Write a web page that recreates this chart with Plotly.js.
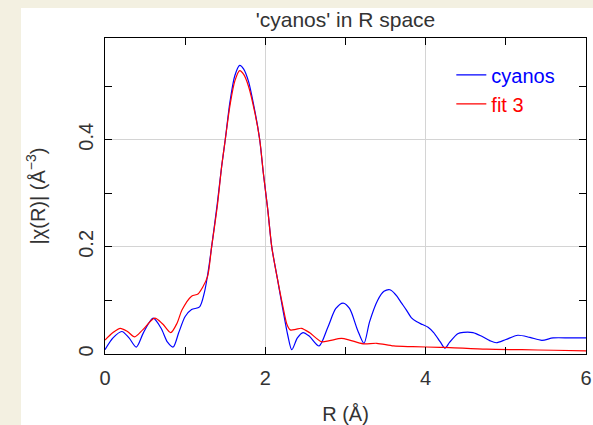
<!DOCTYPE html>
<html>
<head>
<meta charset="utf-8">
<script src="https://cdn.plot.ly/plotly-3.0.1.min.js"></script>
<style>
  html, body { margin: 0; padding: 0; background: #f3f0e1; width: 593px; height: 425px; overflow: hidden; }
  #panel { position: absolute; left: 21px; top: 8px; width: 572px; height: 417px; background: #ffffff; }
  #chart { width: 572px; height: 417px; }
</style>
</head>
<body>
<div id="panel"><div id="chart"></div></div>
<script>
// Data
const R_cyanos = [0.00,0.10,0.21,0.30,0.39,0.48,0.60,0.70,0.78,0.85,0.92,1.00,1.08,1.18,1.24,1.29,1.33,1.40,1.455,1.50,1.56,1.62,1.68,1.73,1.79,1.87,1.93,1.975,2.03,2.08,2.15,2.22,2.28,2.33,2.40,2.47,2.55,2.67,2.78,2.88,2.97,3.05,3.15,3.23,3.30,3.40,3.48,3.555,3.63,3.70,3.76,3.82,3.89,3.96,4.03,4.10,4.18,4.24,4.30,4.40,4.47,4.59,4.70,4.80,4.88,5.00,5.15,5.30,5.45,5.59,5.80,6.00];
const chi_cyanos = [0.008,0.030,0.042,0.030,0.013,0.040,0.067,0.048,0.022,0.013,0.040,0.070,0.083,0.088,0.115,0.157,0.200,0.280,0.350,0.400,0.472,0.520,0.539,0.532,0.509,0.453,0.400,0.338,0.270,0.200,0.141,0.082,0.035,0.008,0.030,0.040,0.033,0.015,0.050,0.085,0.095,0.085,0.045,0.020,0.060,0.100,0.117,0.120,0.110,0.095,0.082,0.068,0.060,0.055,0.050,0.040,0.023,0.011,0.022,0.038,0.0405,0.040,0.033,0.025,0.021,0.027,0.035,0.031,0.0256,0.030,0.030,0.030];

const R_fit = [0.00,0.10,0.19,0.28,0.37,0.47,0.62,0.72,0.82,0.90,0.96,1.08,1.16,1.22,1.28,1.33,1.40,1.455,1.50,1.56,1.62,1.68,1.73,1.79,1.87,1.93,1.975,2.03,2.08,2.15,2.22,2.27,2.31,2.38,2.45,2.55,2.70,2.80,2.95,3.05,3.22,3.39,3.60,3.84,4.18,4.30,4.76,5.20,5.60,6.00];
const chi_fit = [0.026,0.040,0.048,0.042,0.032,0.045,0.067,0.056,0.040,0.058,0.082,0.108,0.112,0.125,0.145,0.200,0.275,0.350,0.400,0.465,0.510,0.529,0.522,0.500,0.450,0.400,0.338,0.270,0.200,0.141,0.088,0.055,0.045,0.046,0.048,0.040,0.023,0.025,0.029,0.026,0.019,0.020,0.015,0.0137,0.0125,0.012,0.009,0.008,0.007,0.006];

const seriesNames = ['cyanos', 'fit 3'];
const seriesColors = ['#0000ff', '#ff0000'];
const titleText = "'cyanos' in R space";
const xTitle = 'R (Å)';
const yTitle = '|χ(R)| (Å<sup>−3</sup>)';

const FONT = 'Liberation Sans, Arial, sans-serif';

const traces = [
  { x: R_cyanos, y: chi_cyanos, type: 'scatter', mode: 'lines',
    name: '<span style="color:' + seriesColors[0] + '">' + seriesNames[0] + '</span>',
    line: { color: seriesColors[0], width: 1.2, shape: 'spline', smoothing: 0.8 } },
  { x: R_fit, y: chi_fit, type: 'scatter', mode: 'lines',
    name: '<span style="color:' + seriesColors[1] + '">' + seriesNames[1] + '</span>',
    line: { color: seriesColors[1], width: 1.2, shape: 'spline', smoothing: 0.8 } }
];

const axisCommon = {
  showline: true, linecolor: '#000', linewidth: 1, mirror: 'allticks',
  ticks: 'inside', ticklen: 7, tickcolor: '#000', tickwidth: 1,
  showgrid: true, gridcolor: '#d4d4d4', gridwidth: 1, zeroline: false,
  tickfont: { family: FONT, size: 20, color: '#333' }
};

const layout = {
  width: 572, height: 417,
  margin: { l: 84, r: 7, t: 30, b: 71 },
  paper_bgcolor: '#ffffff', plot_bgcolor: '#ffffff',
  font: { family: FONT, size: 20, color: '#333' },
  title: { text: titleText, font: { family: FONT, size: 21, color: '#333' },
           x: 0.5, xref: 'paper', xanchor: 'center', y: 1 - 12/417, yref: 'container', yanchor: 'middle' },
  xaxis: Object.assign({}, axisCommon, {
    range: [0, 6], dtick: 2, tick0: 0, ticklabelstandoff: 6,
    minor: { dtick: 1, ticks: 'inside', ticklen: 7, tickcolor: '#000', showgrid: false },
    title: { text: xTitle, font: { family: FONT, size: 20, color: '#333' }, standoff: 19 }
  }),
  yaxis: Object.assign({}, axisCommon, {
    range: [0, 0.59], dtick: 0.2, tick0: 0, tickangle: -90, ticklabelstandoff: 3,
    minor: { dtick: 0.1, ticks: 'inside', ticklen: 7, tickcolor: '#000', showgrid: false },
    title: { text: yTitle, font: { family: FONT, size: 20, color: '#333' }, standoff: 24 }
  }),
  showlegend: true,
  legend: { x: 0.72, y: 0.945, xanchor: 'left', yanchor: 'top', bgcolor: 'rgba(0,0,0,0)',
            font: { family: FONT, size: 20 }, itemwidth: 30, tracegroupgap: 0 }
};

Plotly.newPlot('chart', traces, layout, { displayModeBar: false, staticPlot: true });
</script>
</body>
</html>
